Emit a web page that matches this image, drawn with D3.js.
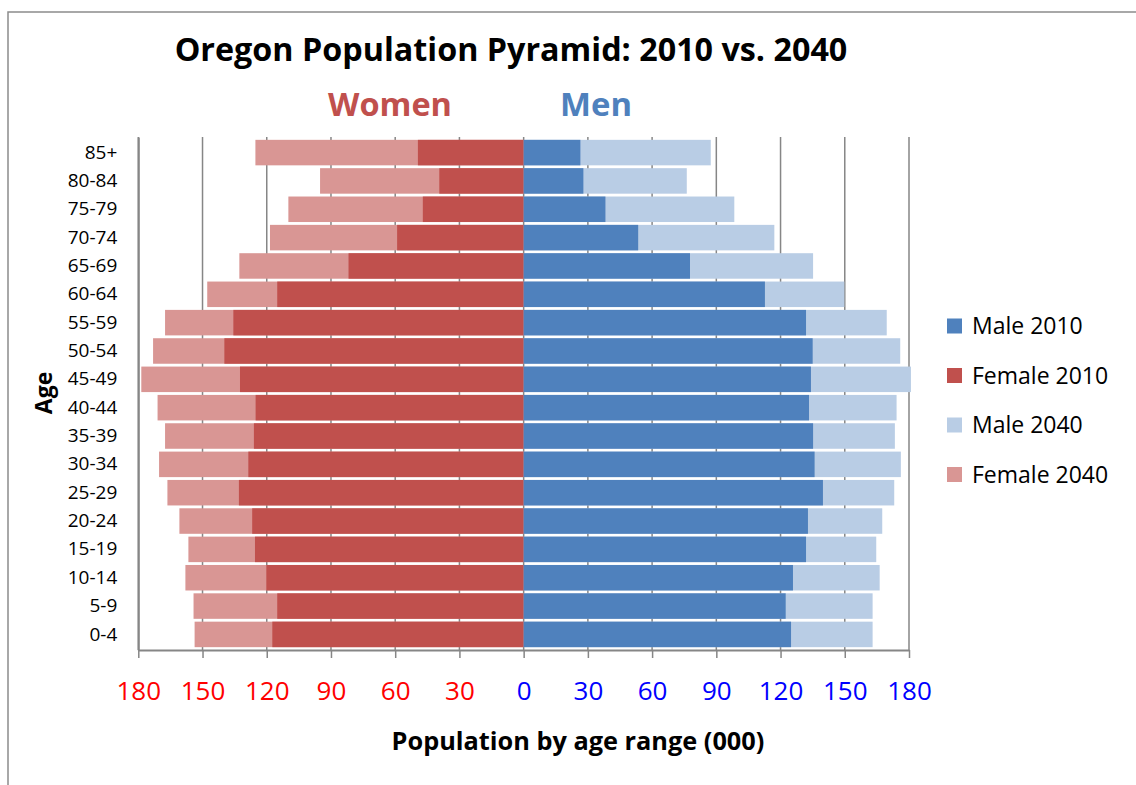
<!DOCTYPE html>
<html>
<head>
<meta charset="utf-8">
<script src="https://cdn.jsdelivr.net/npm/d3@7"></script>
<style>
  body { margin: 0; background: #fff; }
  text { font-family: "Open Sans", "Noto Sans", sans-serif; }
</style>
</head>
<body>
<div id="chart"></div>
<script>
// age groups, bottom to top
var ages = ["0-4", "5-9", "10-14", "15-19", "20-24", "25-29", "30-34", "35-39", "40-44",
    "45-49", "50-54", "55-59", "60-64", "65-69", "70-74", "75-79", "80-84", "85+"];

// values in thousands
var female2010 = [117.4, 115.1, 120.2, 125.5, 126.8, 133.0, 128.6, 126.0, 125.2, 132.5, 139.8, 135.6, 115.1, 81.8, 59.1, 47.1, 39.4, 49.4];
var female2040 = [153.7, 154.2, 158.0, 156.6, 160.8, 166.4, 170.3, 167.5, 171.0, 178.6, 173.1, 167.5, 147.8, 132.8, 118.5, 109.9, 95.1, 125.3];
var male2010 = [124.9, 122.4, 125.8, 131.9, 132.8, 139.8, 135.9, 135.2, 133.3, 134.2, 135.0, 131.9, 112.7, 77.7, 53.5, 38.2, 27.9, 26.5];
var male2040 = [163.0, 163.0, 166.3, 164.7, 167.5, 173.1, 176.2, 173.4, 174.2, 180.9, 175.9, 169.6, 149.8, 135.2, 117.1, 98.4, 76.2, 87.4];

var tickValues = [-180, -150, -120, -90, -60, -30, 0, 30, 60, 90, 120, 150, 180];

var legendItems = [
    { name: "Male 2010", color: "#4F81BD" },
    { name: "Female 2010", color: "#C0504D" },
    { name: "Male 2040", color: "#B9CDE5" },
    { name: "Female 2040", color: "#D99694" }
];

var W = 1136, H = 785;
var plotLeft = 138.3, plotRight = 909, plotTop = 137, plotBottom = 650;

var svg = d3.select("#chart").append("svg")
    .attr("width", W)
    .attr("height", H);

// outer frame (only top and left visible in the picture)
svg.append("rect")
    .attr("x", 8).attr("y", 12)
    .attr("width", 1400).attr("height", 1200)
    .attr("fill", "none")
    .attr("stroke", "#8c8c8c")
    .attr("stroke-width", 1.5);

var x = d3.scaleLinear().domain([-180, 180]).range([plotLeft, plotRight]);
var y = d3.scaleBand().domain(ages.slice().reverse()).range([plotTop, plotBottom]).padding(0.1);

// gridlines
svg.append("g").selectAll("line")
    .data(tickValues)
    .enter()
    .append("line")
    .attr("x1", d => x(d)).attr("x2", d => x(d))
    .attr("y1", plotTop).attr("y2", plotBottom)
    .attr("stroke", "#868686")
    .attr("stroke-width", 1.5);

// bars: 2040 behind, 2010 in front
function drawBars(values, sign, color) {
    svg.append("g").selectAll("rect")
        .data(values)
        .enter()
        .append("rect")
        .attr("x", d => sign < 0 ? x(-d) : x(0))
        .attr("width", d => Math.abs(x(sign * d) - x(0)))
        .attr("y", (d, i) => y(ages[i]))
        .attr("height", y.bandwidth())
        .attr("fill", color);
}
drawBars(female2040, -1, "#D99694");
drawBars(male2040, 1, "#B9CDE5");
drawBars(female2010, -1, "#C0504D");
drawBars(male2010, 1, "#4F81BD");

// x axis
var xAxis = svg.append("g")
    .attr("transform", "translate(0," + plotBottom + ")")
    .call(d3.axisBottom(x).tickValues(tickValues).tickSize(8).tickSizeOuter(0)
        .tickFormat(d => Math.abs(d)));
xAxis.select(".domain").attr("stroke", "#868686").attr("stroke-width", 2);
xAxis.selectAll(".tick line").attr("stroke", "#868686").attr("stroke-width", 1.5);
xAxis.selectAll(".tick text")
    .attr("y", 0)
    .attr("dy", 0)
    .attr("transform", "translate(0,50)")
    .style("font-size", "26px")
    .attr("fill", d => d < 0 ? "#FF0000" : "#0000FF");

// y axis (labels only)
var yAxis = svg.append("g")
    .attr("transform", "translate(" + plotLeft + ",0)")
    .call(d3.axisLeft(y).tickSize(0).tickPadding(21));
yAxis.select(".domain").attr("stroke", "#868686").attr("stroke-width", 2);
yAxis.selectAll(".tick text")
    .style("font-size", "19px")
    .attr("fill", "#000");

// fit a text to a target width
function fitText(sel, width) {
    let len = sel.node().getComputedTextLength();
    let fs = parseFloat(sel.style("font-size"));
    sel.style("font-size", (fs * width / len) + "px");
}

var title = svg.append("text")
    .attr("x", 511).attr("y", 61)
    .attr("text-anchor", "middle")
    .style("font-size", "30px")
    .style("font-weight", "bold")
    .text("Oregon Population Pyramid: 2010 vs. 2040");
fitText(title, 673);

var women = svg.append("text")
    .attr("x", 390).attr("y", 116)
    .attr("text-anchor", "middle")
    .style("font-size", "30px")
    .style("font-weight", "bold")
    .attr("fill", "#C0504D")
    .text("Women");
fitText(women, 124);

var men = svg.append("text")
    .attr("x", 596).attr("y", 116)
    .attr("text-anchor", "middle")
    .style("font-size", "30px")
    .style("font-weight", "bold")
    .attr("fill", "#4F81BD")
    .text("Men");
fitText(men, 72);

var xTitle = svg.append("text")
    .attr("x", 578).attr("y", 750)
    .attr("text-anchor", "middle")
    .style("font-size", "22px")
    .style("font-weight", "bold")
    .text("Population by age range (000)");
fitText(xTitle, 373);

svg.append("text")
    .attr("transform", "translate(52,393) rotate(-90)")
    .attr("text-anchor", "middle")
    .style("font-size", "23px")
    .style("font-weight", "bold")
    .text("Age");

// legend
var legend = svg.append("g").selectAll("g")
    .data(legendItems)
    .enter()
    .append("g")
    .attr("transform", (d, i) => "translate(947," + (326 + i * 49.5) + ")");
legend.append("rect")
    .attr("x", 0).attr("y", -7.5)
    .attr("width", 15).attr("height", 15)
    .attr("fill", d => d.color);
legend.append("text")
    .attr("x", 25).attr("y", 0)
    .attr("dy", "0.36em")
    .style("font-size", "23px")
    .text(d => d.name);
</script>
</body>
</html>
